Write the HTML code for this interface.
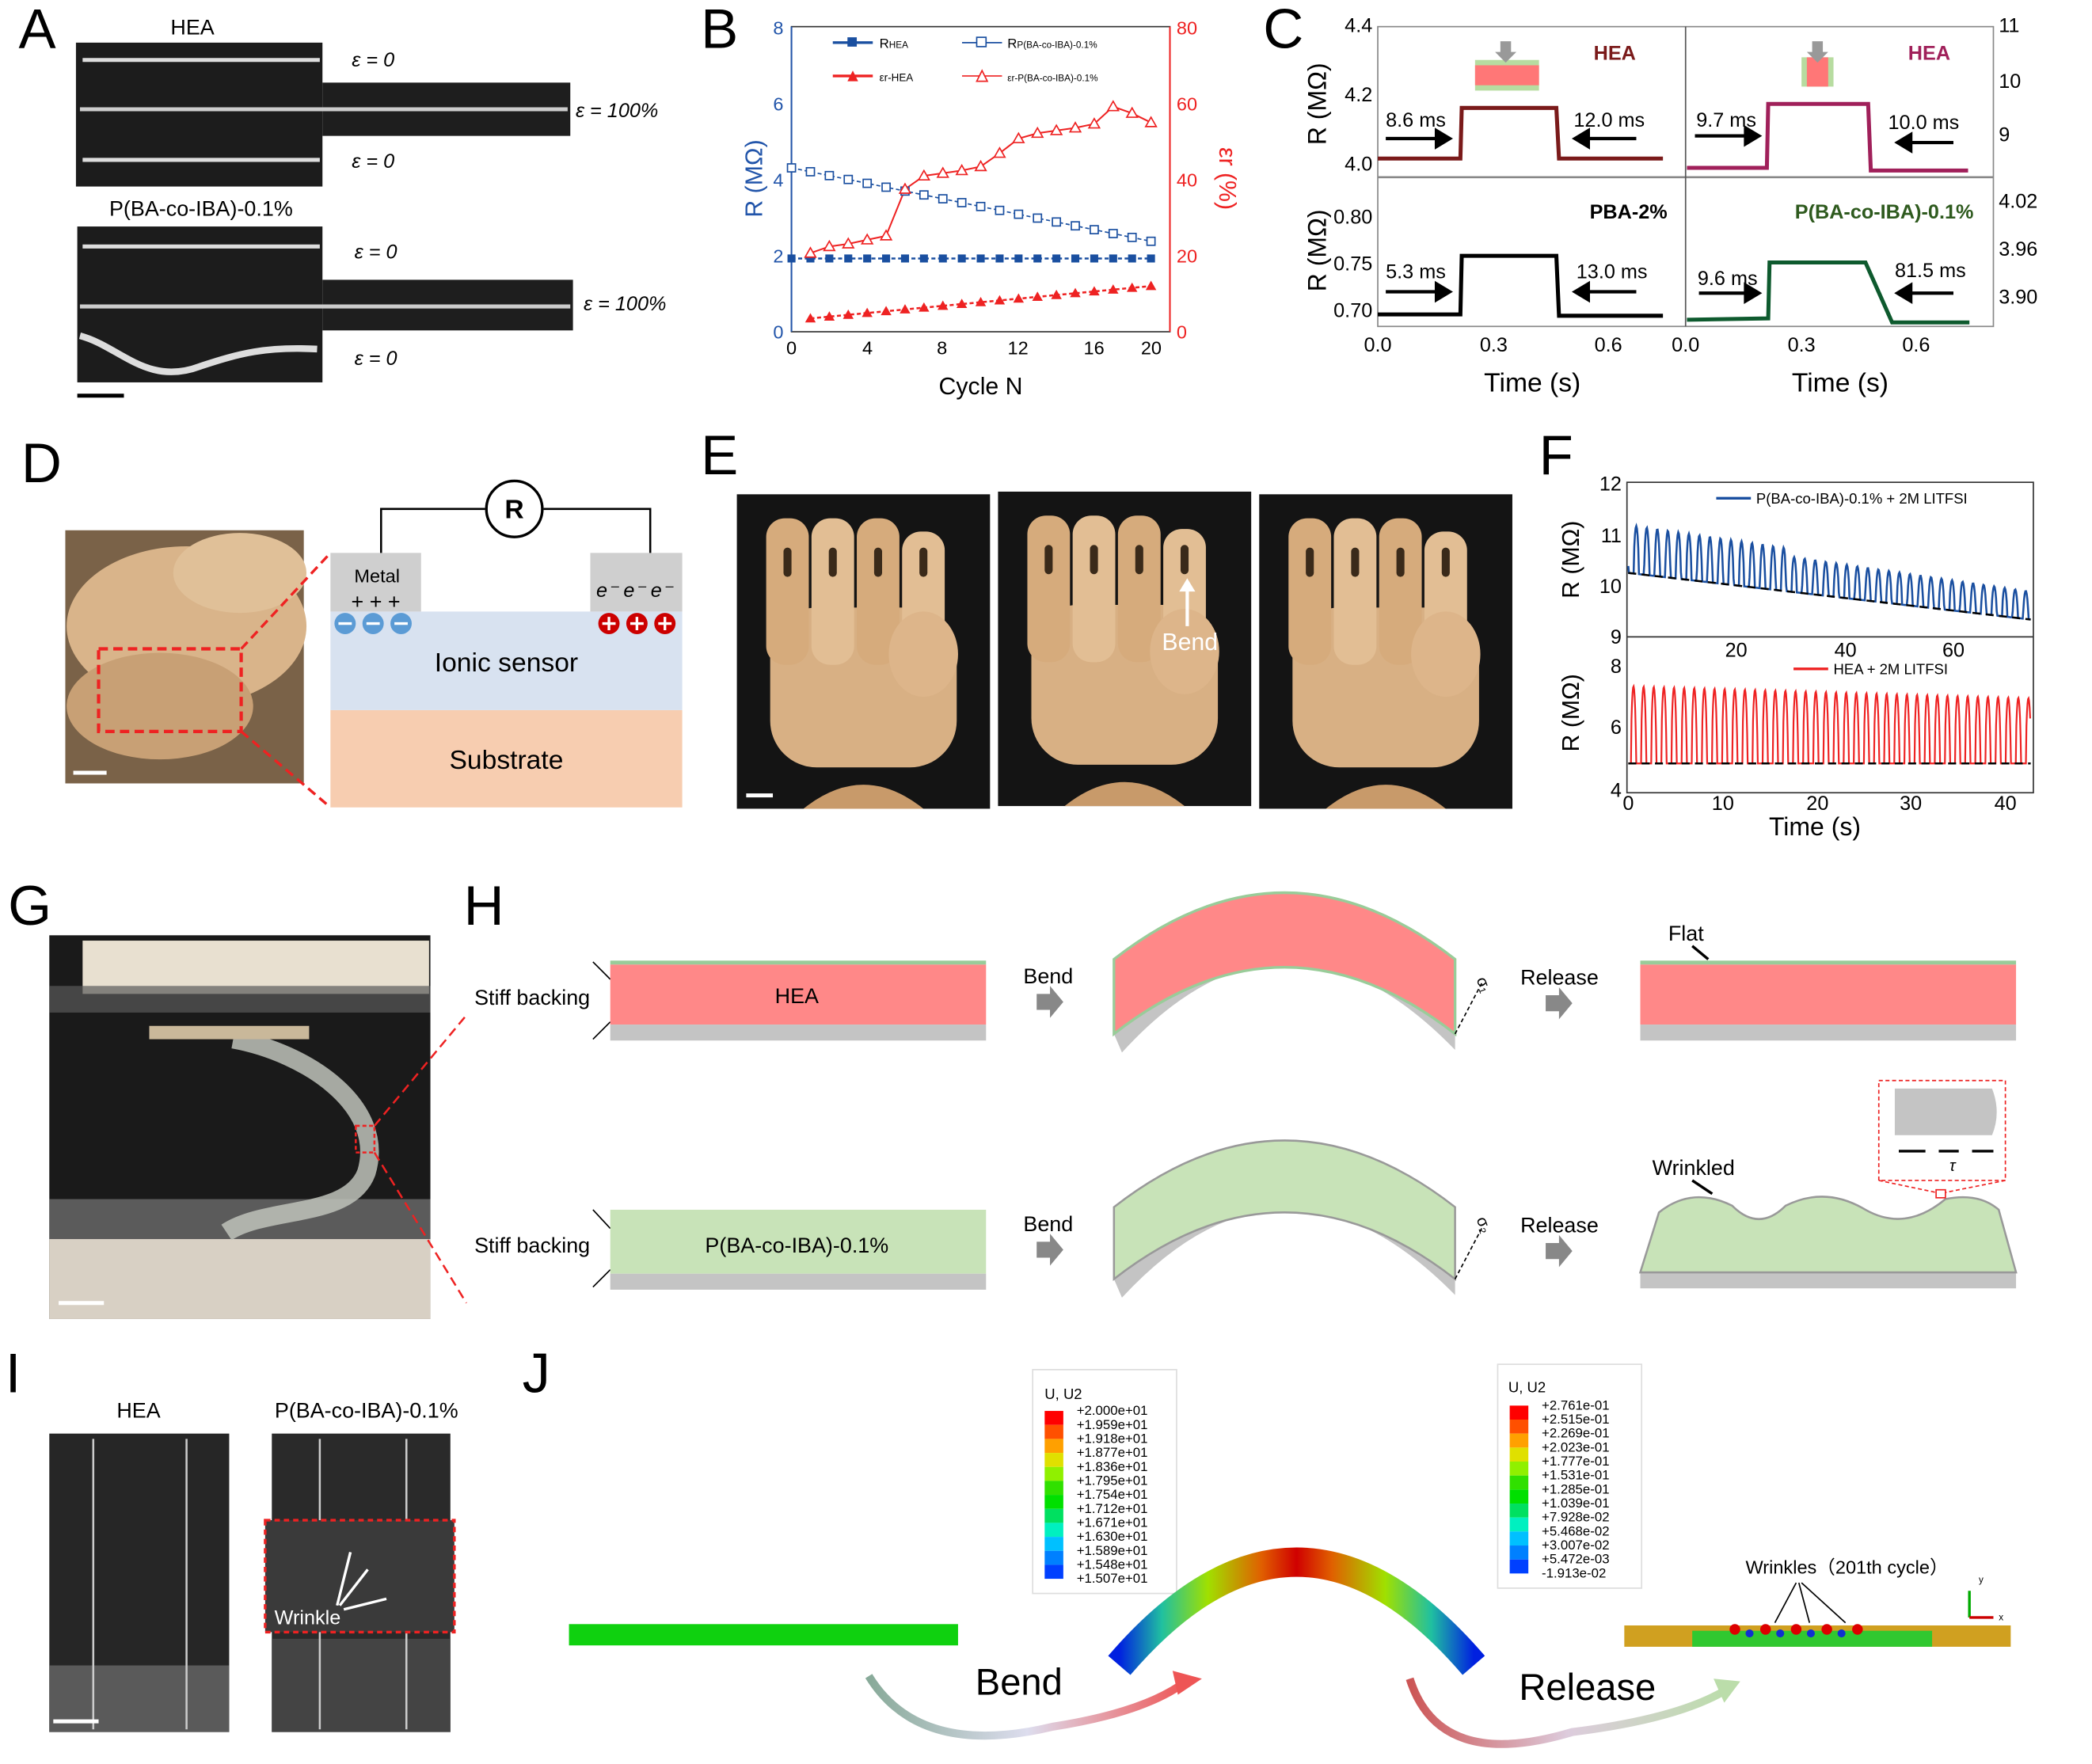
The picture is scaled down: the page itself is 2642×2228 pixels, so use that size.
<!DOCTYPE html>
<html><head><meta charset="utf-8"><style>
html,body{margin:0;padding:0;background:#fff}
svg{display:block}
text{font-family:"Liberation Sans",sans-serif}
</style></head><body>
<svg id="s" width="2642" height="2228" viewBox="0 0 1570 1324" preserveAspectRatio="none" xmlns="http://www.w3.org/2000/svg">
<rect width="1570" height="1324" fill="#fff"/>
<!-- Panel labels -->
<g font-size="42" fill="#000">
<text x="14" y="36">A</text><text x="526" y="36">B</text><text x="948" y="36">C</text>
<text x="16" y="362">D</text><text x="526" y="356">E</text><text x="1155" y="356">F</text>
<text x="6" y="694">G</text><text x="348" y="694">H</text><text x="4" y="1045">I</text><text x="392" y="1045">J</text>
</g>

<!-- Panel A -->
<text x="128" y="26" font-size="16">HEA</text>
<rect x="57" y="32" width="185" height="108" fill="#1c1c1c"/>
<rect x="242" y="62" width="186" height="40" fill="#1e1e1e"/>
<line x1="62" y1="45" x2="240" y2="45" stroke="#ddd" stroke-width="3"/>
<line x1="60" y1="82" x2="426" y2="82" stroke="#ccc" stroke-width="3"/>
<line x1="62" y1="120" x2="240" y2="120" stroke="#ddd" stroke-width="3"/>
<g font-size="15" font-style="italic"><text x="264" y="50">ε = 0</text><text x="432" y="88">ε = 100%</text><text x="264" y="126">ε = 0</text>
<text x="266" y="194">ε = 0</text><text x="438" y="233">ε = 100%</text><text x="266" y="274">ε = 0</text></g>
<text x="82" y="162" font-size="16">P(BA-co-IBA)-0.1%</text>
<rect x="58" y="170" width="184" height="117" fill="#1c1c1c"/>
<rect x="242" y="210" width="188" height="38" fill="#1e1e1e"/>
<line x1="62" y1="185" x2="240" y2="185" stroke="#ddd" stroke-width="3"/>
<line x1="60" y1="230" x2="428" y2="230" stroke="#ccc" stroke-width="3"/>
<path d="M60 252 C90 260 110 290 150 275 C180 265 200 260 238 262" stroke="#ddd" stroke-width="5" fill="none"/>
<line x1="58" y1="297" x2="93" y2="297" stroke="#000" stroke-width="3"/>

<!-- Panel B -->
<rect x="594" y="20" width="284" height="229" fill="none" stroke="#333" stroke-width="1"/>
<line x1="878" y1="20" x2="878" y2="249" stroke="#e22" stroke-width="1.2"/>
<line x1="594" y1="20" x2="594" y2="249" stroke="#2255aa" stroke-width="1.2"/>
<g font-size="14" fill="#2255aa" text-anchor="end"><text x="588" y="254">0</text><text x="588" y="197">2</text><text x="588" y="140">4</text><text x="588" y="83">6</text><text x="588" y="26">8</text></g>
<g font-size="14" fill="#e22"><text x="883" y="254">0</text><text x="883" y="197">20</text><text x="883" y="140">40</text><text x="883" y="83">60</text><text x="883" y="26">80</text></g>
<g font-size="14" text-anchor="middle"><text x="594" y="266">0</text><text x="651" y="266">4</text><text x="707" y="266">8</text><text x="764" y="266">12</text><text x="821" y="266">16</text><text x="864" y="266">20</text></g>
<text x="736" y="296" font-size="18" text-anchor="middle">Cycle N</text>
<text x="572" y="134" font-size="18" fill="#2255aa" text-anchor="middle" transform="rotate(-90 572 134)">R (MΩ)</text>
<text x="915" y="134" font-size="18" fill="#e22" text-anchor="middle" transform="rotate(90 915 134)">εr (%)</text>
<g font-size="10"><line x1="625" y1="32" x2="655" y2="32" stroke="#1a4fa0" stroke-width="2"/><rect x="636" y="28" width="7" height="7" fill="#1a4fa0"/><text x="660" y="36">R<tspan font-size="7">HEA</tspan></text>
<line x1="722" y1="32" x2="752" y2="32" stroke="#1a4fa0"/><rect x="733" y="28" width="7" height="7" fill="#fff" stroke="#1a4fa0"/><text x="756" y="36">R<tspan font-size="7">P(BA-co-IBA)-0.1%</tspan></text>
<line x1="625" y1="57" x2="655" y2="57" stroke="#e22" stroke-width="2"/><path d="M636 61 L640 53 L644 61Z" fill="#e22"/><text x="660" y="61" font-size="8">εr-HEA</text>
<line x1="722" y1="57" x2="752" y2="57" stroke="#e22"/><path d="M733 61 L737 53 L741 61Z" fill="#fff" stroke="#e22"/><text x="756" y="61" font-size="7">εr-P(BA-co-IBA)-0.1%</text></g>
<g id="bdata"></g>

<!-- Panel C -->
<rect x="1034" y="20" width="462" height="225" fill="none" stroke="#888"/>
<line x1="1034" y1="133" x2="1496" y2="133" stroke="#888" stroke-width="1.5"/>
<line x1="1265" y1="20" x2="1265" y2="245" stroke="#555"/>
<g font-size="15" text-anchor="end"><text x="1030" y="24">4.4</text><text x="1030" y="76">4.2</text><text x="1030" y="128">4.0</text>
<text x="1030" y="168">0.80</text><text x="1030" y="203">0.75</text><text x="1030" y="238">0.70</text></g>
<g font-size="15"><text x="1500" y="24">11</text><text x="1500" y="66">10</text><text x="1500" y="106">9</text><text x="1500" y="156">4.02</text><text x="1500" y="192">3.96</text><text x="1500" y="228">3.90</text></g>
<g font-size="15" text-anchor="middle"><text x="1034" y="264">0.0</text><text x="1121" y="264">0.3</text><text x="1207" y="264">0.6</text><text x="1265" y="264">0.0</text><text x="1352" y="264">0.3</text><text x="1438" y="264">0.6</text></g>
<text x="1150" y="294" font-size="20" text-anchor="middle">Time (s)</text><text x="1381" y="294" font-size="20" text-anchor="middle">Time (s)</text>
<text x="995" y="78" font-size="19" text-anchor="middle" transform="rotate(-90 995 78)">R (MΩ)</text>
<text x="995" y="188" font-size="19" text-anchor="middle" transform="rotate(-90 995 188)">R (MΩ)</text>
<polyline points="1034,119 1096,119 1097,81 1168,81 1170,119 1248,119" stroke="#7a1a1a" stroke-width="3" fill="none"/>
<polyline points="1266,126 1326,126 1327,78 1402,78 1404,128 1477,128" stroke="#a0205a" stroke-width="3" fill="none"/>
<polyline points="1034,236 1096,236 1097,192 1168,192 1170,237 1248,237" stroke="#000" stroke-width="3" fill="none"/>
<polyline points="1266,240 1327,239 1328,197 1400,197 1420,242 1478,242" stroke="#0e5a2e" stroke-width="3" fill="none"/>
<g font-size="15"><text x="1040" y="95">8.6 ms</text><text x="1181" y="95">12.0 ms</text><text x="1273" y="95">9.7 ms</text><text x="1417" y="97">10.0 ms</text>
<text x="1040" y="209">5.3 ms</text><text x="1183" y="209">13.0 ms</text><text x="1274" y="214">9.6 ms</text><text x="1422" y="208">81.5 ms</text></g>
<g font-size="15" font-weight="bold"><text x="1196" y="45" fill="#7a1a1a">HEA</text><text x="1432" y="45" fill="#a0205a">HEA</text><text x="1193" y="164">PBA-2%</text><text x="1347" y="164" fill="#2e5a1e">P(BA-co-IBA)-0.1%</text></g>
<g stroke="#000" stroke-width="2.5" fill="#000">
<line x1="1040" y1="104" x2="1080" y2="104"/><path d="M1088 104 L1078 98 L1078 110Z"/>
<line x1="1190" y1="104" x2="1228" y2="104"/><path d="M1182 104 L1192 98 L1192 110Z"/>
<line x1="1272" y1="102" x2="1312" y2="102"/><path d="M1320 102 L1310 96 L1310 108Z"/>
<line x1="1432" y1="107" x2="1466" y2="107"/><path d="M1424 107 L1434 101 L1434 113Z"/>
<line x1="1040" y1="219" x2="1080" y2="219"/><path d="M1088 219 L1078 213 L1078 225Z"/>
<line x1="1190" y1="219" x2="1228" y2="219"/><path d="M1182 219 L1192 213 L1192 225Z"/>
<line x1="1275" y1="220" x2="1312" y2="220"/><path d="M1320 220 L1310 214 L1310 226Z"/>
<line x1="1432" y1="220" x2="1466" y2="220"/><path d="M1424 220 L1434 214 L1434 226Z"/>
</g>
<rect x="1107" y="45" width="48" height="23" fill="#b7dca0"/><rect x="1107" y="49" width="48" height="15" fill="#f77"/>
<path d="M1126 31 h8 v8 h4 l-8 8 l-8 -8 h4z" fill="#999"/>
<rect x="1352" y="43" width="24" height="22" fill="#b7dca0"/><rect x="1356" y="43" width="16" height="22" fill="#f77"/>
<path d="M1360 31 h8 v8 h4 l-8 8 l-8 -8 h4z" fill="#999"/>

<!-- Panel D -->
<rect x="49" y="398" width="179" height="190" fill="#7a6248"/>
<ellipse cx="140" cy="470" rx="90" ry="60" fill="#d9b48a"/><ellipse cx="120" cy="530" rx="70" ry="40" fill="#c8a075"/><ellipse cx="180" cy="430" rx="50" ry="30" fill="#e0c098"/>
<rect x="74" y="487" width="107" height="62" fill="none" stroke="#e22" stroke-width="2.5" stroke-dasharray="7,4"/>
<line x1="55" y1="580" x2="80" y2="580" stroke="#fff" stroke-width="3"/>
<line x1="181" y1="487" x2="248" y2="415" stroke="#e22" stroke-width="2" stroke-dasharray="7,4"/>
<line x1="181" y1="549" x2="248" y2="606" stroke="#e22" stroke-width="2" stroke-dasharray="7,4"/>
<rect x="248" y="533" width="264" height="73" fill="#f7cdb0"/>
<rect x="248" y="459" width="264" height="74" fill="#d8e2f0"/>
<rect x="248" y="415" width="68" height="44" fill="#cfcfcf"/><rect x="443" y="415" width="69" height="44" fill="#cfcfcf"/>
<polyline points="286,415 286,382 364,382" fill="none" stroke="#000" stroke-width="1.5"/><polyline points="408,382 488,382 488,415" fill="none" stroke="#000" stroke-width="1.5"/>
<circle cx="386" cy="382" r="21" fill="#fff" stroke="#000" stroke-width="2"/><text x="386" y="389" font-size="20" font-weight="bold" text-anchor="middle">R</text>
<text x="283" y="437" font-size="14" text-anchor="middle">Metal</text>
<text x="282" y="457" font-size="16" text-anchor="middle">+ + +</text>
<text x="476" y="448" font-size="15" font-style="italic" text-anchor="middle">e⁻ e⁻ e⁻</text>
<g fill="#5b9bd5"><circle cx="259" cy="468" r="8"/><circle cx="280" cy="468" r="8"/><circle cx="301" cy="468" r="8"/></g>
<g stroke="#fff" stroke-width="2"><line x1="254" y1="468" x2="264" y2="468"/><line x1="275" y1="468" x2="285" y2="468"/><line x1="296" y1="468" x2="306" y2="468"/></g>
<g fill="#c00"><circle cx="457" cy="468" r="8"/><circle cx="478" cy="468" r="8"/><circle cx="499" cy="468" r="8"/></g>
<g stroke="#fff" stroke-width="2"><path d="M452 468h10M457 463v10M473 468h10M478 463v10M494 468h10M499 463v10"/></g>
<text x="380" y="504" font-size="20" text-anchor="middle">Ionic sensor</text>
<text x="380" y="577" font-size="20" text-anchor="middle">Substrate</text>

<!-- Panel E -->
<g id="hands"></g>
<line x1="560" y1="597" x2="580" y2="597" stroke="#fff" stroke-width="3"/>
<line x1="891" y1="470" x2="891" y2="440" stroke="#fff" stroke-width="2.5"/><path d="M891 434 l-6 10 h12z" fill="#fff"/>
<text x="893" y="488" font-size="18" fill="#fff" text-anchor="middle">Bend</text>

<!-- Panel F -->
<rect x="1221" y="362" width="305" height="233" fill="none" stroke="#333"/>
<line x1="1221" y1="478" x2="1526" y2="478" stroke="#333"/>
<g font-size="15" text-anchor="end"><text x="1217" y="368">12</text><text x="1217" y="407">11</text><text x="1217" y="445">10</text><text x="1217" y="483">9</text>
<text x="1217" y="505">8</text><text x="1217" y="551">6</text><text x="1217" y="598">4</text></g>
<g font-size="15" text-anchor="middle"><text x="1303" y="493">20</text><text x="1385" y="493">40</text><text x="1466" y="493">60</text>
<text x="1222" y="608">0</text><text x="1293" y="608">10</text><text x="1364" y="608">20</text><text x="1434" y="608">30</text><text x="1505" y="608">40</text></g>
<text x="1362" y="627" font-size="19" text-anchor="middle">Time (s)</text>
<text x="1185" y="420" font-size="18" text-anchor="middle" transform="rotate(-90 1185 420)">R (MΩ)</text>
<text x="1185" y="535" font-size="18" text-anchor="middle" transform="rotate(-90 1185 535)">R (MΩ)</text>
<line x1="1288" y1="374" x2="1314" y2="374" stroke="#1a4fa0" stroke-width="2"/><text x="1318" y="378" font-size="11">P(BA-co-IBA)-0.1% + 2M LITFSI</text>
<line x1="1346" y1="502" x2="1372" y2="502" stroke="#e22" stroke-width="2"/><text x="1376" y="506" font-size="11">HEA + 2M LITFSI</text>
<g id="fdata"></g>
<line x1="1222" y1="430" x2="1524" y2="465" stroke="#000" stroke-width="1.5" stroke-dasharray="6,4"/>
<line x1="1222" y1="573" x2="1524" y2="573" stroke="#000" stroke-width="1.5" stroke-dasharray="6,4"/>

<!-- Panel G -->
<rect x="37" y="702" width="286" height="288" fill="#1a1a1a"/>
<rect x="62" y="706" width="260" height="40" fill="#e8e0d0"/>
<rect x="37" y="740" width="286" height="20" fill="#5a5a5a" opacity="0.7"/>
<rect x="37" y="900" width="286" height="30" fill="#777" opacity="0.7"/>
<rect x="37" y="930" width="286" height="60" fill="#d8d0c4"/>
<path d="M175 780 C230 790 290 830 275 880 C262 915 200 905 170 925" fill="none" stroke="#bfc3bb" stroke-width="14" opacity="0.85"/>
<rect x="112" y="770" width="120" height="10" fill="#c9b89a"/>
<line x1="44" y1="978" x2="78" y2="978" stroke="#fff" stroke-width="3"/>
<rect x="267" y="845" width="14" height="20" fill="none" stroke="#e22" stroke-width="1.5" stroke-dasharray="3,2"/>
<line x1="281" y1="845" x2="350" y2="762" stroke="#e22" stroke-width="1.5" stroke-dasharray="7,4"/>
<line x1="281" y1="865" x2="350" y2="978" stroke="#e22" stroke-width="1.5" stroke-dasharray="7,4"/>

<!-- Panel H -->
<g font-size="16">
<text x="356" y="754">Stiff backing</text><text x="356" y="940">Stiff backing</text>
<text x="768" y="738">Bend</text><text x="768" y="924">Bend</text><text x="1141" y="739">Release</text><text x="1141" y="925">Release</text>
<text x="1252" y="706">Flat</text><text x="1240" y="882">Wrinkled</text></g>
<path d="M445 722 L458 735 M445 780 L458 767 M445 908 L458 922 M445 966 L458 953" stroke="#000"/>
<rect x="458" y="721" width="282" height="3" fill="#9c9"/><rect x="458" y="724" width="282" height="45" fill="#f88"/><rect x="458" y="769" width="282" height="12" fill="#c4c4c4"/>
<text x="598" y="753" font-size="16" text-anchor="middle">HEA</text>
<rect x="458" y="908" width="282" height="48" fill="#c8e3b8"/><rect x="458" y="956" width="282" height="12" fill="#c4c4c4"/>
<text x="598" y="940" font-size="16" text-anchor="middle">P(BA-co-IBA)-0.1%</text>
<rect x="1231" y="721" width="282" height="3" fill="#9c9"/><rect x="1231" y="724" width="282" height="45" fill="#f88"/><rect x="1231" y="769" width="282" height="12" fill="#c4c4c4"/>
<line x1="1270" y1="710" x2="1282" y2="720" stroke="#000" stroke-width="2"/>
<path d="M836 776 Q964 640 1092 776 L1092 788 Q964 656 842 790Z" fill="#c4c4c4"/>
<path d="M836 720 Q964 620 1092 720 L1092 776 Q964 676 836 776Z" fill="#f88" stroke="#9c9" stroke-width="2"/>
<path d="M836 960 Q964 826 1092 960 L1092 972 Q964 842 842 974Z" fill="#c4c4c4"/>
<path d="M836 906 Q964 806 1092 906 L1092 960 Q964 860 836 960Z" fill="#c8e3b8" stroke="#999" stroke-width="1.5"/>
<line x1="1092" y1="776" x2="1112" y2="738" stroke="#000" stroke-dasharray="3,2"/><line x1="1092" y1="960" x2="1112" y2="922" stroke="#000" stroke-dasharray="3,2"/>
<text x="1108" y="735" font-size="12" transform="rotate(70 1108 735)">σ₁</text><text x="1108" y="915" font-size="12" transform="rotate(70 1108 915)">σ₂</text>
<g fill="#888"><path d="M778 746 h10 v-6 l10 12 l-10 12 v-6 h-10z"/><path d="M778 932 h10 v-6 l10 12 l-10 12 v-6 h-10z"/><path d="M1160 747 h10 v-6 l10 12 l-10 12 v-6 h-10z"/><path d="M1160 933 h10 v-6 l10 12 l-10 12 v-6 h-10z"/></g>
<rect x="1231" y="955" width="282" height="12" fill="#c4c4c4"/>
<path d="M1231 955 L1245 910 Q1270 890 1300 905 Q1320 925 1340 905 Q1370 890 1400 908 Q1430 925 1460 900 Q1485 895 1500 908 L1513 955Z" fill="#c8e3b8" stroke="#999" stroke-width="1.5"/>
<line x1="1270" y1="886" x2="1285" y2="896" stroke="#000" stroke-width="2"/>
<rect x="1410" y="811" width="95" height="75" fill="#fff" stroke="#e22" stroke-dasharray="3,2"/>
<path d="M1422 817 H1495 Q1502 835 1495 852 H1422Z" fill="#c4c4c4"/>
<g stroke="#000" stroke-width="2"><line x1="1425" y1="864" x2="1445" y2="864"/><line x1="1455" y1="864" x2="1470" y2="864"/><line x1="1480" y1="864" x2="1496" y2="864"/></g>
<text x="1463" y="879" font-size="12" font-style="italic">τ</text>
<rect x="1453" y="893" width="7" height="6" fill="none" stroke="#e22"/>
<line x1="1410" y1="886" x2="1453" y2="895" stroke="#e22" stroke-dasharray="3,2"/><line x1="1505" y1="886" x2="1460" y2="895" stroke="#e22" stroke-dasharray="3,2"/>

<!-- Panel I -->
<text x="104" y="1064" font-size="16" text-anchor="middle">HEA</text>
<text x="275" y="1064" font-size="16" text-anchor="middle">P(BA-co-IBA)-0.1%</text>
<rect x="37" y="1076" width="135" height="224" fill="#262626"/>
<rect x="37" y="1250" width="135" height="50" fill="#5a5a5a"/>
<line x1="70" y1="1080" x2="70" y2="1298" stroke="#ccc" stroke-width="1.5"/><line x1="140" y1="1080" x2="140" y2="1298" stroke="#ccc" stroke-width="1.5"/>
<line x1="40" y1="1292" x2="74" y2="1292" stroke="#fff" stroke-width="3"/>
<rect x="204" y="1076" width="134" height="224" fill="#2a2a2a"/>
<rect x="204" y="1230" width="134" height="70" fill="#444"/>
<line x1="240" y1="1080" x2="240" y2="1298" stroke="#ccc" stroke-width="1.5"/><line x1="305" y1="1080" x2="305" y2="1298" stroke="#ccc" stroke-width="1.5"/>
<rect x="199" y="1141" width="142" height="84" fill="#3a3a3a" stroke="#e22" stroke-width="2" stroke-dasharray="4,3"/>
<g stroke="#fff" stroke-width="2"><line x1="253" y1="1205" x2="263" y2="1165"/><line x1="255" y1="1205" x2="276" y2="1178"/><line x1="258" y1="1208" x2="290" y2="1200"/></g>
<text x="206" y="1219" font-size="15" fill="#fff">Wrinkle</text>

<!-- Panel J -->
<rect x="427" y="1219" width="292" height="16" fill="#0fd10f"/>
<rect x="775" y="1028" width="108" height="168" fill="#fff" stroke="#ddd"/>
<rect x="1124" y="1024" width="108" height="168" fill="#fff" stroke="#ddd"/>
<text x="784" y="1050" font-size="11">U, U2</text><text x="1132" y="1045" font-size="11">U, U2</text>
<g id="legends"></g>
<path id="arch" d="M840 1250 Q973 1095 1106 1250" fill="none" stroke="url(#gArch)" stroke-width="22"/>
<defs>
<linearGradient id="gArch" x1="0" x2="1" y1="0" y2="0"><stop offset="0" stop-color="#0020e0"/><stop offset="0.12" stop-color="#20c0a0"/><stop offset="0.25" stop-color="#a0e000"/><stop offset="0.4" stop-color="#e06000"/><stop offset="0.5" stop-color="#d00000"/><stop offset="0.6" stop-color="#e06000"/><stop offset="0.75" stop-color="#a0e000"/><stop offset="0.88" stop-color="#20c0a0"/><stop offset="1" stop-color="#0020e0"/></linearGradient>
<linearGradient id="gB" x1="0" x2="1"><stop offset="0" stop-color="#8a9"/><stop offset="0.5" stop-color="#dde"/><stop offset="1" stop-color="#e55"/></linearGradient>
<linearGradient id="gR" x1="0" x2="1"><stop offset="0" stop-color="#c55"/><stop offset="0.5" stop-color="#dcd"/><stop offset="1" stop-color="#bda"/></linearGradient>
</defs>
<rect x="1219" y="1220" width="290" height="16" fill="#d0a020"/>
<rect x="1270" y="1224" width="180" height="12" fill="#30c830"/>
<g fill="#d00"><circle cx="1302" cy="1223" r="4"/><circle cx="1325" cy="1223" r="4"/><circle cx="1348" cy="1223" r="4"/><circle cx="1371" cy="1223" r="4"/><circle cx="1394" cy="1223" r="4"/></g>
<g fill="#1030d0"><circle cx="1313" cy="1226" r="3"/><circle cx="1336" cy="1226" r="3"/><circle cx="1359" cy="1226" r="3"/><circle cx="1382" cy="1226" r="3"/></g>
<text x="1310" y="1181" font-size="14">Wrinkles（201th cycle）</text>
<g stroke="#000"><line x1="1348" y1="1188" x2="1332" y2="1218"/><line x1="1350" y1="1188" x2="1358" y2="1218"/><line x1="1352" y1="1188" x2="1385" y2="1218"/></g>
<line x1="1478" y1="1214" x2="1478" y2="1194" stroke="#0a0" stroke-width="2"/><line x1="1478" y1="1214" x2="1496" y2="1214" stroke="#c00" stroke-width="2"/>
<text x="1485" y="1188" font-size="7">y</text><text x="1500" y="1216" font-size="7">x</text>
<path d="M652 1258 Q690 1320 790 1296 Q860 1285 890 1262" fill="none" stroke="url(#gB)" stroke-width="6"/>
<path d="M880 1254 L902 1260 L884 1272Z" fill="#e55"/>
<path d="M1058 1260 Q1080 1330 1180 1300 Q1260 1290 1296 1268" fill="none" stroke="url(#gR)" stroke-width="6"/>
<path d="M1286 1260 L1306 1262 L1294 1278Z" fill="#bda"/>
<text x="732" y="1272" font-size="28">Bend</text>
<text x="1140" y="1276" font-size="28">Release</text>
</svg>
<script>
var NS="http://www.w3.org/2000/svg";
function el(p,t,a){var e=document.createElementNS(NS,t);for(var k in a)e.setAttribute(k,a[k]);p.appendChild(e);return e;}
var g=document.getElementById('bdata');
function X(n){return 594+14.2*n;}
var rh=[],rp=[],eh=[],ep=[];
var epY=[190,185,183,180,177,142,132,130,128,125,115,104,100,98,96,93,80,85,92];
for(var n=0;n<20;n++){rh.push([X(n),194]);rp.push([X(n),126+n*2.9]);}
for(var n=1;n<20;n++){eh.push([X(n),239-(n-1)*1.35]);ep.push([X(n),epY[n-1]]);}
function pl(arr,c,w,d){el(g,'polyline',{points:arr.map(p=>p.join(',')).join(' '),fill:'none',stroke:c,'stroke-width':w,'stroke-dasharray':d||'none'});}
pl(rh,'#1a4fa0',1.5,'3,2');pl(rp,'#1a4fa0',1,'3,2');pl(eh,'#e22',1.5,'3,2');pl(ep,'#e22',1.2);
rh.forEach(p=>el(g,'rect',{x:p[0]-3,y:p[1]-3,width:6,height:6,fill:'#1a4fa0'}));
rp.forEach(p=>el(g,'rect',{x:p[0]-3,y:p[1]-3,width:6,height:6,fill:'#fff',stroke:'#1a4fa0'}));
eh.forEach(p=>el(g,'path',{d:'M'+(p[0]-4)+' '+(p[1]+3)+' L'+p[0]+' '+(p[1]-4)+' L'+(p[0]+4)+' '+(p[1]+3)+'Z',fill:'#e22'}));
ep.forEach(p=>el(g,'path',{d:'M'+(p[0]-4)+' '+(p[1]+3)+' L'+p[0]+' '+(p[1]-4)+' L'+(p[0]+4)+' '+(p[1]+3)+'Z',fill:'#fff',stroke:'#e22'}));
var f=document.getElementById('fdata');
var pts=[];for(var x=1222;x<=1524;x+=0.5){var base=430+(x-1222)*35/302;var per=7.9;var ph=((x-1226)%per)/per;var s=Math.max(0,Math.sin(ph*Math.PI*2));var amp=(x<1340?36:30)-(x-1222)*0.03;pts.push(x+','+(base-Math.pow(s,0.6)*amp));}
el(f,'polyline',{points:pts.join(' '),fill:'none',stroke:'#1a4fa0','stroke-width':1.5});
pts=[];for(var x=1222;x<=1524;x+=0.4){var per=7.6;var ph=((x-1224)%per)/per;var s=Math.max(0,Math.sin(ph*Math.PI*2));pts.push(x+','+(573-Math.pow(s,0.5)*(58-(x-1222)*0.03)));}
el(f,'polyline',{points:pts.join(' '),fill:'none',stroke:'#e22','stroke-width':1.3});
var h=document.getElementById('hands');
[[553,371],[749,369],[945,371]].forEach(function(o,i){
 el(h,'rect',{x:o[0],y:o[1],width:190,height:236,fill:'#141414'});
 el(h,'path',{d:'M'+(o[0]+50)+' '+(o[1]+236)+' Q'+(o[0]+95)+' '+(o[1]+200)+' '+(o[0]+140)+' '+(o[1]+236)+'Z',fill:'#c89a6a'});
 el(h,'rect',{x:o[0]+25,y:o[1]+85,width:140,height:120,rx:35,fill:'#d8b084'});
 for(var k=0;k<4;k++){el(h,'rect',{x:o[0]+22+k*34,y:o[1]+18+(k==3?10:0),width:32,height:110,rx:14,fill:k%2?'#e2be94':'#d6ab7c'});
  el(h,'rect',{x:o[0]+35+k*34,y:o[1]+40,width:6,height:22,rx:3,fill:'#3a2a1a'});}
 el(h,'ellipse',{cx:o[0]+140,cy:o[1]+120,rx:26,ry:32,fill:'#ddb58a'});
});
var L=document.getElementById('legends');
var cols=['#ff0000','#ff5000','#ffa000','#e0e000','#90f000','#30e000','#00e000','#00e060','#00f0c0','#00c0ff','#0080ff','#0040ff','#0000e0'];
var v1=['+2.000e+01','+1.959e+01','+1.918e+01','+1.877e+01','+1.836e+01','+1.795e+01','+1.754e+01','+1.712e+01','+1.671e+01','+1.630e+01','+1.589e+01','+1.548e+01','+1.507e+01'];
var v2=['+2.761e-01','+2.515e-01','+2.269e-01','+2.023e-01','+1.777e-01','+1.531e-01','+1.285e-01','+1.039e-01','+7.928e-02','+5.468e-02','+3.007e-02','+5.472e-03','-1.913e-02'];
function leg(x,y,v,h){for(var i=0;i<12;i++)el(L,'rect',{x:x,y:y+i*h,width:14,height:h,fill:cols[i]});
 v.forEach(function(t,i){var e=el(L,'text',{x:x+24,y:y+i*h+3,'font-size':10});e.textContent=t;});}
leg(784,1059,v1,10.5);leg(1133,1055,v2,10.5);
</script>
</body></html>
